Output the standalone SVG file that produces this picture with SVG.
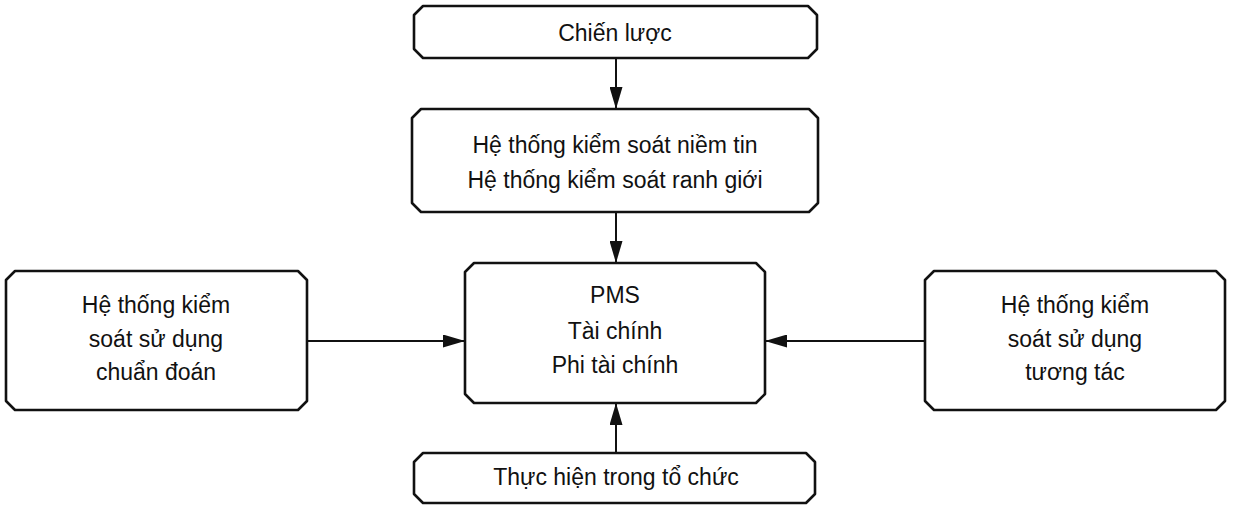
<svg xmlns="http://www.w3.org/2000/svg" width="1233" height="506" viewBox="0 0 1233 506">
<style>
.box{fill:#fff;stroke:#111;stroke-width:2.6;stroke-linejoin:round}
.t{font-family:"Liberation Sans",Arial,sans-serif;font-size:23px;fill:#111;text-anchor:middle}
.c{stroke:#111;stroke-width:2;fill:none}
</style>
<defs>
<marker id="ah" markerUnits="userSpaceOnUse" markerWidth="22" markerHeight="13" refX="22" refY="6.5" orient="auto">
<path d="M0,0 L22,6.5 L0,13 Z" fill="#111"/>
</marker>
</defs>
<rect width="1233" height="506" fill="#fff"/>
<g id="connectors">
<line class="c" x1="616" y1="58" x2="616" y2="109" marker-end="url(#ah)"/>
<line class="c" x1="616" y1="212" x2="616" y2="263" marker-end="url(#ah)"/>
<line class="c" x1="307" y1="341" x2="465" y2="341" marker-end="url(#ah)"/>
<line class="c" x1="925" y1="341" x2="765" y2="341" marker-end="url(#ah)"/>
<line class="c" x1="616" y1="453" x2="616" y2="403" marker-end="url(#ah)"/>
</g>
<g id="chien-luoc">
<polygon class="box" points="423,6 808,6 817,15 817,49 808,58 423,58 414,49 414,15"/>
<text class="t" x="615" y="41">Chiến lược</text>
</g>
<g id="niem-tin">
<polygon class="box" points="421,109 809,109 818,118 818,203 809,212 421,212 412,203 412,118"/>
<text class="t" x="615" y="153">Hệ thống kiểm soát niềm tin</text>
<text class="t" x="615" y="188">Hệ thống kiểm soát ranh giới</text>
</g>
<g id="pms">
<polygon class="box" points="474,263 756,263 765,272 765,394 756,403 474,403 465,394 465,272"/>
<text class="t" x="615" y="303">PMS</text>
<text class="t" x="615" y="339">Tài chính</text>
<text class="t" x="615" y="373">Phi tài chính</text>
</g>
<g id="chuan-doan">
<polygon class="box" points="15,271 298,271 307,280 307,401 298,410 15,410 6,401 6,280"/>
<text class="t" x="156" y="313">Hệ thống kiểm</text>
<text class="t" x="156" y="347">soát sử dụng</text>
<text class="t" x="156" y="380">chuẩn đoán</text>
</g>
<g id="tuong-tac">
<polygon class="box" points="934,271 1216,271 1225,280 1225,401 1216,410 934,410 925,401 925,280"/>
<text class="t" x="1075" y="313">Hệ thống kiểm</text>
<text class="t" x="1075" y="347">soát sử dụng</text>
<text class="t" x="1075" y="380">tương tác</text>
</g>
<g id="thuc-hien">
<polygon class="box" points="423,453 806,453 815,462 815,494 806,503 423,503 414,494 414,462"/>
<text class="t" x="616" y="485">Thực hiện trong tổ chức</text>
</g>
</svg>
